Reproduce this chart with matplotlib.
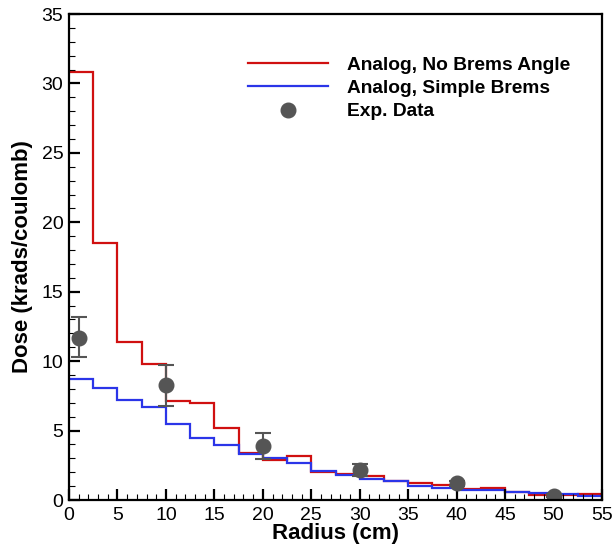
"""
Radial dose profile: analog runs vs. experimental data.
"""

import matplotlib.pyplot as plt
import numpy as np

plt.rcParams["font.family"] = ["Liberation Sans", "DejaVu Sans"]

# bin edges (cm)
edges = np.arange(0, 55.1, 2.5)

no_brems_angle = [30.8, 18.5, 11.4, 9.8, 7.1, 7.0, 5.2, 3.4, 2.9, 3.15, 2.05,
                  1.9, 1.73, 1.4, 1.2, 1.08, 0.77, 0.89, 0.6, 0.36, 0.38, 0.43]
simple_brems = [8.7, 8.1, 7.2, 6.7, 5.45, 4.5, 3.95, 3.3, 3.05, 2.7, 2.1,
                1.8, 1.5, 1.37, 1.03, 0.84, 0.72, 0.7, 0.55, 0.48, 0.4, 0.3]

exp_r = [1.0, 10.0, 20.0, 30.0, 40.0, 50.0]
exp_dose = [11.7, 8.3, 3.9, 2.15, 1.2, 0.3]
exp_lo = [10.3, 6.8, 2.95, 1.75, 1.0, 0.2]
exp_hi = [13.15, 9.7, 4.8, 2.6, 1.4, 0.4]


def main():
    fig = plt.figure(figsize=(6.13, 5.47), dpi=100)
    ax = fig.add_axes([0.1126, 0.0859, 0.8695, 0.8885])

    ax.stairs(no_brems_angle, edges, color="#d01010", linewidth=1.6,
              baseline=None, label="Analog, No Brems Angle")
    ax.stairs(simple_brems, edges, color="#2b35e8", linewidth=1.6,
              baseline=None, label="Analog, Simple Brems")

    yerr = [np.array(exp_dose) - np.array(exp_lo),
            np.array(exp_hi) - np.array(exp_dose)]
    ax.errorbar(exp_r, exp_dose, yerr=yerr, fmt="none", ecolor="#555555",
                elinewidth=1.5, capsize=6, capthick=1.5)
    ax.plot(exp_r, exp_dose, "o", color="#555555", markersize=10.5,
            linestyle="none", label="Exp. Data")

    ax.set_xlim(0, 55)
    ax.set_ylim(0, 35)
    ax.set_xticks(np.arange(0, 56, 5))
    ax.set_yticks(np.arange(0, 36, 5))
    ax.set_xticks(np.arange(0, 56, 1), minor=True)
    ax.set_yticks(np.arange(0, 36, 1), minor=True)
    ax.tick_params(which="major", direction="in", length=8, width=1.6,
                   labelsize=14)
    ax.tick_params(axis="x", which="major", pad=5)
    ax.tick_params(axis="y", which="major", pad=4)
    ax.tick_params(which="minor", direction="in", length=4, width=0.8)
    for s in ax.spines.values():
        s.set_linewidth(1.6)

    ax.set_xlabel("Radius (cm)", fontsize=16, fontweight="bold", labelpad=-1)
    ax.set_ylabel("Dose (krads/coulomb)", fontsize=16, fontweight="bold",
                  labelpad=6)

    ax.legend(loc="upper left", bbox_to_anchor=(0.303, 0.948),
              frameon=False, handlelength=4.2, handletextpad=1.0,
              labelspacing=0.3, prop={"weight": "bold", "size": 13.8})

    fig.savefig("out.png", dpi=100)
    plt.close(fig)


if __name__ == "__main__":
    main()
